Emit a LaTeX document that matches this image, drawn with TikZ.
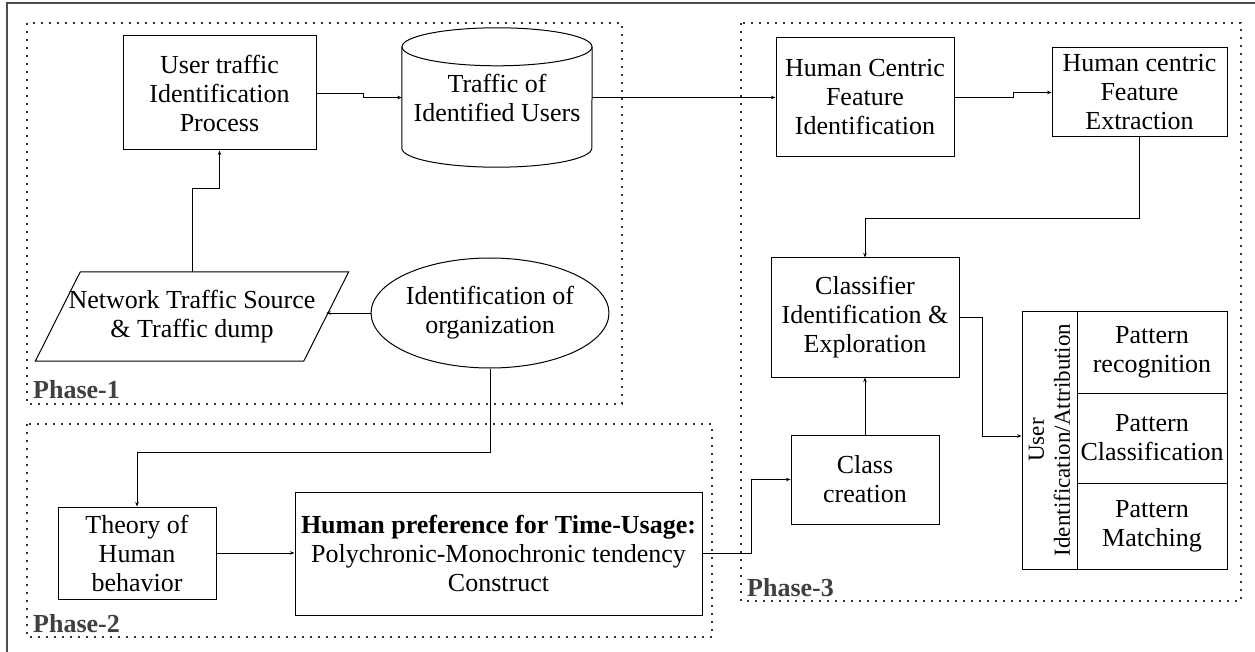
\documentclass[tikz,border=0pt]{standalone}
\usepackage{fontspec}
\setmainfont{Liberation Serif}
\usetikzlibrary{arrows.meta,shapes.geometric}

\begin{document}
\begin{tikzpicture}[x=1pt,y=-1pt,
  font=\fontsize{26}{29}\selectfont,
  box/.style={draw, line width=1pt, align=center, inner sep=0pt},
  arr/.style={line width=0.9pt, -{Stealth[length=4.5pt,width=3.5pt]}},
  wire/.style={line width=1pt},
  phase/.style={draw, dash pattern=on 1.6pt off 6.4pt, line width=1.4pt, black!80},
  plabel/.style={font=\fontsize{26}{29}\selectfont\bfseries, text=black!75, anchor=base west, inner sep=0pt}
]
\useasboundingbox (0,0) rectangle (1255,652);

% outer frame (top and left edges)
\draw[line width=1.8pt, black!70] (7,652) -- (7,3) -- (1255,3);

% phase regions
\draw[phase] (27,23) rectangle (622,404);
\draw[phase] (27,424) rectangle (712,637);
\draw[phase] (741,23) rectangle (1241,601);
\node[plabel] (p1) at (33,398) {Phase-1};
\node[plabel] (p2) at (33,632) {Phase-2};
\node[plabel] (p3) at (747,596) {Phase-3};

% Phase-1
\node[box, minimum width=193, minimum height=114] (ut) at (219.5,93) {User traffic\\Identification\\Process};
\node[align=center, inner sep=0pt, minimum width=190, minimum height=101] (db) at (497,97.5) {Traffic of\\Identified Users};
\draw[wire] (db.north west) -- (db.south west)
  arc[start angle=180, end angle=360, x radius=95pt, y radius=19pt] -- (db.north east);
\draw[wire] (db.north) ellipse[x radius=95pt, y radius=19pt];
\node[align=center, inner sep=0pt, minimum width=268, minimum height=89] (src) at (192,316.5) {Network Traffic Source\\\& Traffic dump};
\draw[wire] ([xshift=22.5pt]src.north west) -- ([xshift=22.5pt]src.north east)
  -- ([xshift=-22.5pt]src.south east) -- ([xshift=-22.5pt]src.south west) -- cycle;
\node[box, ellipse, minimum width=212, minimum height=110] (ell) at (490,313) {Identification of\\organization};

% Phase-2
\node[box, minimum width=158, minimum height=92] (th) at (137,553) {Theory of\\Human\\behavior};
\node[box, minimum width=407, minimum height=123] (hp) at (498.5,553.5) {\textbf{Human preference for Time-Usage:}\\Polychronic-Monochronic tendency\\Construct};

% Phase-3
\node[box, minimum width=178, minimum height=119] (hcfi) at (865,97.5) {Human Centric\\Feature\\Identification};
\node[box, minimum width=175, minimum height=89] (hcfe) at (1139.5,92.5) {Human centric\\Feature\\Extraction};
\node[box, minimum width=188, minimum height=119] (cl) at (865,317.5) {Classifier\\Identification \&\\Exploration};
\node[box, minimum width=148, minimum height=89] (cc) at (865,479.5) {Class\\creation};
\node[box, minimum width=55, minimum height=258] (uidl) at (1049.5,440) {};
\node[rotate=90, align=center, inner sep=0pt, font=\fontsize{23}{26}\selectfont] (uidt) at (uidl.center) {User\\Identification/Attribution};
\node[box, minimum width=150, minimum height=82] (pr) at (1152,352) {Pattern\\recognition};
\node[box, minimum width=150, minimum height=90] (pc) at (1152,438) {Pattern\\Classification};
\node[box, minimum width=150, minimum height=86] (pm) at (1152,526) {Pattern\\Matching};

% connectors
\draw[arr] (src.north) -- ++(0,-83) -| (ut.south);
\draw[arr] (ut.east) -- ++(47,0) |- (db.west);
\draw[arr] (ell.west) -- (ell.west -| src.east);
\draw[arr] (db.east) -- (hcfi.west);
\draw[arr] (hcfi.east) -- ++(59,0) |- (hcfe.west);
\draw[arr] (hcfe.south) -- ++(0,81) -| (cl.north);
\draw[arr] (cc.north) -- (cl.south);
\draw[arr] (cl.east) -- ++(23,0) |- ([yshift=4pt]uidl.west);
\draw[arr] (ell.south) -- ++(0,84) -| (th.north);
\draw[arr] (th.east) -- (th.east -| hp.west);
\draw[arr] (hp.east) -- ++(49,0) |- (cc.west);
\end{tikzpicture}
\end{document}
